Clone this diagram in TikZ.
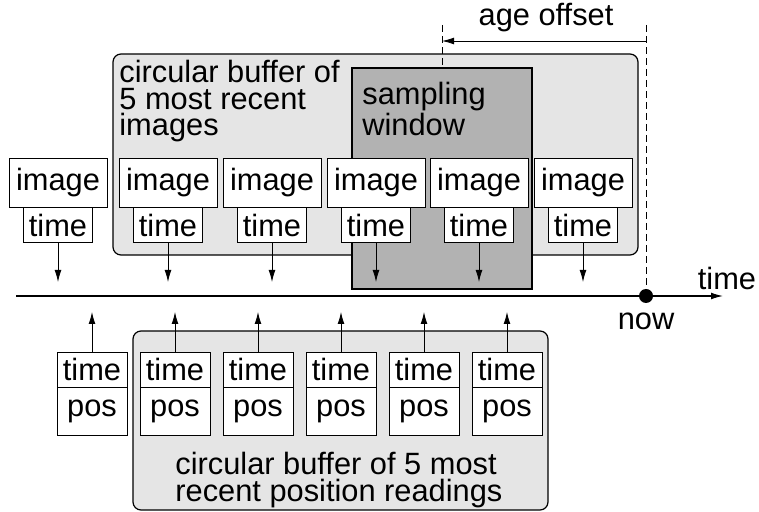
\documentclass[tikz,border=0pt]{standalone}
\usepackage{fontspec}
\setmainfont{Liberation Sans}
\usetikzlibrary{arrows.meta,positioning}

\begin{document}
\begin{tikzpicture}[x=0.5pt, y=-0.5pt, >={Latex[length=6pt,width=3.4pt]},
    font=\fontsize{15.4}{13.3}\selectfont,
    buffer/.style={draw, line width=0.6pt, rounded corners=4pt, fill=black!10},
    window/.style={draw, line width=0.6pt, fill=black!30},
    title/.style={anchor=north west, align=left, inner sep=0pt},
    imgbox/.style={draw, fill=white, inner sep=0pt, minimum width=49pt, minimum height=24.5pt},
    stampbox/.style={draw, fill=white, inner sep=0pt, minimum width=34.5pt, minimum height=17.5pt},
    readtime/.style={draw, fill=white, inner sep=0pt, minimum width=35pt, minimum height=17.5pt},
    readpos/.style={draw, fill=white, inner sep=0pt, minimum width=35pt, minimum height=24pt}]
    \useasboundingbox (0,0) rectangle (759,512);

    % where the arrows meet the time axis
    \coordinate (imgaxis) at (0,282);
    \coordinate (posaxis) at (0,312);

    % buffer of images
    \draw[buffer] (113,54) rectangle (638,255);
    \node[title] (imgtitle) at (119,60) {circular buffer of\\5 most recent\\images};

    % sampling window
    \draw[window] (352,68) rectangle (532,289);
    \node[title] (wintitle) at (362,82) {sampling\\window};

    % images with their time stamps
    \foreach \x [count=\i] in {58,168,272,376,479,583} {
        \node[imgbox] (img\i) at (\x,182.5) {image};
        \node[stampbox, below=0pt of img\i] (ts\i) {time};
        \draw[->] (ts\i) -- (ts\i |- imgaxis);
    }

    % time axis
    \coordinate (tstart) at (16,296);
    \coordinate (tend) at (723,296);
    \draw[->, line width=0.6pt] (tstart) -- (tend);
    \node[anchor=base] (timelbl) at (727,290) {time};
    \node[circle, fill, inner sep=0pt, minimum size=7pt] (nowdot) at (646,296) {};
    \node[anchor=base] (nowlbl) at (646,330) {now};

    % age offset
    \coordinate (nowtop) at (646,25);
    \coordinate (wintop) at (442,25);
    \coordinate (winedge) at (442,68);
    \coordinate (ageend) at (442,41);
    \coordinate (agestart) at (646,41);
    \draw[dashed, dash pattern=on 3.5pt off 2pt] (nowtop) -- (nowdot);
    \draw[dashed, dash pattern=on 3.5pt off 2pt] (wintop) -- (winedge);
    \draw[->] (agestart) -- (ageend);
    \node[anchor=base] (agelbl) at (546,26) {age offset};

    % buffer of position readings
    \draw[buffer] (133,331) rectangle (548,510);
    \node[title] (postitle) at (175,452) {circular buffer of 5 most\\recent position readings};

    \foreach \x [count=\i] in {92,175,258,341,424,507} {
        \node[readtime] (rt\i) at (\x,369.5) {time};
        \node[readpos, below=0pt of rt\i] (rp\i) {pos};
        \draw[->] (rt\i) -- (rt\i |- posaxis);
    }
\end{tikzpicture}
\end{document}
